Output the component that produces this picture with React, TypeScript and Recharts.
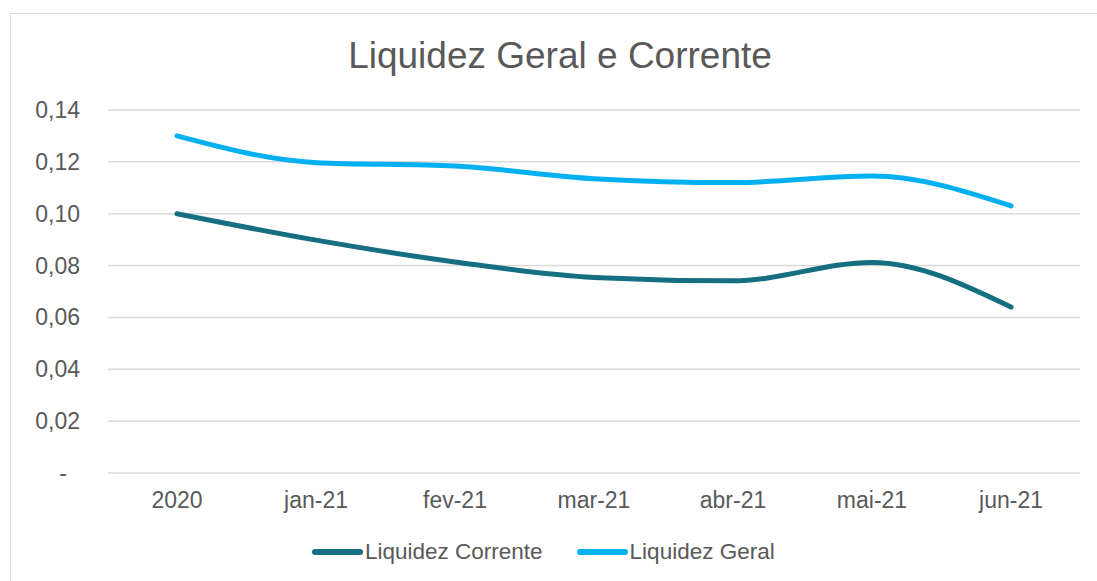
import { LineChart, Line, XAxis, YAxis, CartesianGrid } from 'recharts';

const categories = ['2020', 'jan-21', 'fev-21', 'mar-21', 'abr-21', 'mai-21', 'jun-21'];
const liquidezCorrente = [0.1, 0.0898, 0.0814, 0.0754, 0.0741, 0.0812, 0.064];
const liquidezGeral = [0.13, 0.1197, 0.1184, 0.1135, 0.112, 0.1145, 0.103];
const yTicks = [0, 0.02, 0.04, 0.06, 0.08, 0.1, 0.12, 0.14];

const data = categories.map((name, i) => ({
  name,
  corrente: liquidezCorrente[i],
  geral: liquidezGeral[i],
}));

const TEXT = '#595959';
const FONT = '"Liberation Sans", Arial, sans-serif';
const CORRENTE = '#156F80';
const GERAL = '#00B0F0';

const fmtY = (v: number) => (v === 0 ? '-' : v.toFixed(2).replace('.', ','));

const YTick = ({ x, y, payload }: any) => (
  <text
    x={payload.value === 0 ? x - 13 : x}
    y={y}
    dy={8}
    textAnchor="end"
    fill={TEXT}
    fontSize={23}
    fontFamily={FONT}
  >
    {fmtY(payload.value)}
  </text>
);

const LegendItem = ({ color, label }: { color: string; label: string }) => (
  <div style={{ display: 'flex', alignItems: 'center' }}>
    <div style={{ width: 51, height: 6, borderRadius: 3, background: color }} />
    <span style={{ marginLeft: 2 }}>{label}</span>
  </div>
);

export default function App() {
  return (
    <div style={{ position: 'absolute', left: 0, top: 0, width: 1097, height: 581, overflow: 'hidden', background: '#fff' }}>
      <div
        style={{
          position: 'absolute',
          left: 10,
          top: 13,
          width: 1100,
          height: 600,
          border: '1px solid #d9d9d9',
          boxSizing: 'border-box',
        }}
      />
      <div
        style={{
          position: 'absolute',
          left: 260,
          width: 600,
          top: 37,
          textAlign: 'center',
          fontFamily: FONT,
          fontSize: 37,
          lineHeight: '37px',
          color: TEXT,
        }}
      >
        Liquidez Geral e Corrente
      </div>
      <div style={{ position: 'absolute', left: 0, top: 0 }}>
        <LineChart
          width={1097}
          height={581}
          data={data}
          margin={{ top: 110, right: 17, bottom: 58, left: 0 }}
        >
          <CartesianGrid vertical={false} stroke="#d9d9d9" strokeWidth={1.5} />
          <XAxis
            dataKey="name"
            axisLine={false}
            tickLine={false}
            tickSize={0}
            tickMargin={19}
            height={50}
            padding={{ left: 69, right: 69 }}
            interval={0}
            tick={{ fill: TEXT, fontSize: 23, fontFamily: FONT }}
          />
          <YAxis
            width={108}
            domain={[0, 0.14]}
            ticks={yTicks}
            axisLine={false}
            tickLine={false}
            tickSize={0}
            tickMargin={28}
            tick={<YTick />}
            interval={0}
          />
          <Line
            type="monotone"
            dataKey="corrente"
            stroke={CORRENTE}
            strokeWidth={5}
            strokeLinecap="round"
            dot={false}
            isAnimationActive={false}
          />
          <Line
            type="monotone"
            dataKey="geral"
            stroke={GERAL}
            strokeWidth={5}
            strokeLinecap="round"
            dot={false}
            isAnimationActive={false}
          />
        </LineChart>
      </div>
      <div
        style={{
          position: 'absolute',
          left: 312,
          top: 538,
          display: 'flex',
          gap: 34,
          fontFamily: FONT,
          fontSize: 22.5,
          lineHeight: '28px',
          color: TEXT,
        }}
      >
        <LegendItem color={CORRENTE} label="Liquidez Corrente" />
        <LegendItem color={GERAL} label="Liquidez Geral" />
      </div>
    </div>
  );
}
